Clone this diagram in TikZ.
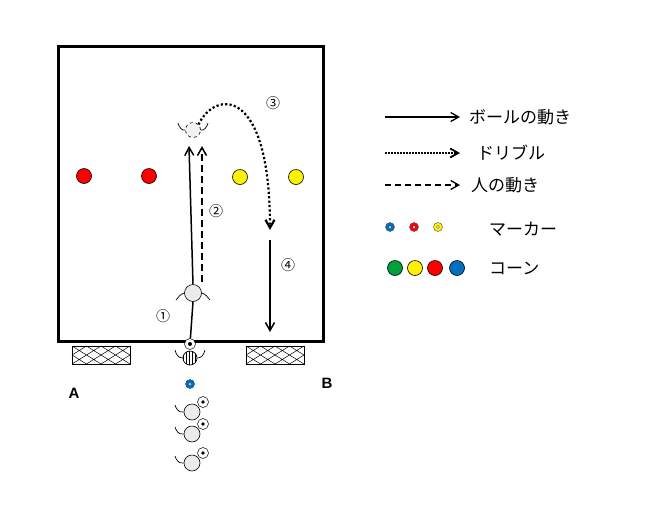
\documentclass[tikz,border=0pt]{standalone}
\usepackage{fontspec}
\setmainfont{Liberation Sans}
\newfontfamily\cjk{Noto Sans CJK JP}
\usetikzlibrary{arrows.meta,patterns}
\definecolor{mblue}{RGB}{0,112,192}
\definecolor{mgreen}{RGB}{0,160,60}
\begin{document}
\begin{tikzpicture}[x=1pt,y=-1pt,
  cone/.style={circle,draw=black,line width=0.6pt,minimum size=15pt,inner sep=0pt},
  mkr/.style={circle,draw=black!70,line width=0.4pt,minimum size=9pt,inner sep=0pt},
  player/.style={circle,draw=black,fill=black!8,line width=0.6pt,minimum size=17pt,inner sep=0pt},
  ball/.style={circle,draw=black,fill=white,line width=0.5pt,minimum size=11pt,inner sep=0pt},
  lbl/.style={font=\cjk\fontsize{14}{14}\selectfont,inner sep=1pt},
  leg/.style={font=\cjk\fontsize{17}{17}\selectfont,inner sep=1pt,anchor=west},
  arr/.style={-{Straight Barb[length=8pt,width=9pt]},line width=1.5pt},
  goal/.style={draw=black,line width=0.8pt}]
\useasboundingbox (0,0) rectangle (651,515);
\node[draw,line width=3pt,minimum width=265pt,minimum height=295pt,anchor=north west] (field) at (57,45) {};
% goals
\foreach \x in {72,246}{
  \draw[goal] (\x,346) rectangle ++(58,18);
  \draw[line width=0.5pt] (\x,346) -- ++(29,18) -- ++(29,-18) (\x,364) -- ++(29,-18) -- ++(29,18)
    (\x,355) -- ++(14.5,-9) (\x,355) -- ++(14.5,9) (\x+58,355) -- ++(-14.5,-9) (\x+58,355) -- ++(-14.5,9)
    (\x+14.5,346)--(\x+43.5,364) (\x+43.5,346)--(\x+14.5,364);
}
% cones
\node[cone,fill=red] (c1) at (84,176) {};
\node[cone,fill=red] (c2) at (149,176) {};
\node[cone,fill=yellow] (c3) at (240,177) {};
\node[cone,fill=yellow] (c4) at (296,177) {};
% players
\node[player] (p1) at (193,293) {};
\draw[line width=0.7pt] (p1.west) .. controls (180,294) and (178,298) .. (176,300);
\draw[line width=0.7pt] (p1.east) .. controls (206,294) and (208,298) .. (210,300);
\node[player,dashed,fill=black!5,minimum size=15pt] (p2) at (193,130) {};
\draw[line width=0.7pt] (p2.west) .. controls (182,131) and (179,127) .. (178,123);
\draw[line width=0.7pt] (p2.east) .. controls (204,131) and (207,127) .. (208,123);
\node[ball] (b0) at (190,344) {};
\fill (b0) circle (2pt);
\node[circle,draw,line width=0.7pt,minimum size=14pt,inner sep=0pt,pattern=vertical lines] (p0) at (190,358) {};
\draw[line width=0.7pt] (p0.west) .. controls (178,358) and (176,354) .. (175,350);
\draw[line width=0.7pt] (p0.east) .. controls (202,358) and (204,354) .. (205,350);
% waiting players
\node[mkr,fill=mblue,draw=mblue!60!black] (m0) at (190,384) {};
\draw[black,fill=white,line width=0.3pt] (m0) circle (1.5pt);
\foreach \n/\y in {w1/412,w2/434,w3/463}{
  \node[player,minimum size=16pt] (\n) at (192,\y) {};
  \draw[line width=0.7pt] (\n.west) .. controls (178,\y+1) and (176,\y-4) .. (175,\y-7);
  \node[ball] (\n b) at (203,\y-10) {};
  \fill (\n b) circle (1.8pt);
}
% movements
\coordinate (t1) at (189,146);
\draw[line width=1.5pt] (b0) -- (p1.south);
\draw[arr] (p1.north) -- (t1);
\coordinate (d0) at (202,282); \coordinate (d1) at (202,146);
\draw[arr,dash pattern=on 7pt off 4pt] (d0) -- (d1);
\coordinate (dr1) at (270,230);
\draw[arr,line width=2.2pt,dash pattern=on 2.2pt off 2.2pt] (p2.north east) .. controls (215,90) and (270,85) .. (dr1);
\coordinate (s0) at (270,240); \coordinate (s1) at (270,332);
\draw[arr] (s0) -- (s1);
\node[lbl] (n1) at (163,316) {①};
\node[lbl] (n2) at (216,211) {②};
\node[lbl] (n3) at (273,103) {③};
\node[lbl] (n4) at (288,265) {④};
\node[font=\bfseries\fontsize{15}{15}\selectfont] (A) at (74,393) {A};
\node[font=\bfseries\fontsize{15}{15}\selectfont] (B) at (327,383) {B};
% legend
\coordinate (l1a) at (385,117); \coordinate (l1b) at (460,117);
\draw[arr,line width=1.3pt] (l1a) -- (l1b);
\node[leg] (t1l) at (468,117) {ボールの動き};
\coordinate (l2a) at (385,153); \coordinate (l2b) at (460,153);
\draw[arr,line width=1.8pt,dash pattern=on 1.6pt off 1.4pt] (l2a) -- (l2b);
\node[leg] (t2l) at (476,153) {ドリブル};
\coordinate (l3a) at (385,185); \coordinate (l3b) at (460,185);
\draw[arr,line width=1.3pt,dash pattern=on 6pt off 4pt] (l3a) -- (l3b);
\node[leg] (t3l) at (470,185) {人の動き};
\foreach \n/\x/\c in {mk1/390/mblue,mk2/414/red,mk3/438/yellow}{
  \node[mkr,fill=\c] (\n) at (\x,227) {};
  \draw[black,fill=white,line width=0.3pt] (\n) circle (1.5pt);
}
\node[leg] (t4l) at (488,229) {マーカー};
\node[cone,fill=mgreen] (k1) at (395,268) {};
\node[cone,fill=yellow] (k2) at (415,268) {};
\node[cone,fill=red] (k3) at (435,268) {};
\node[cone,fill=mblue] (k4) at (457,268) {};
\node[leg] (t5l) at (488,268) {コーン};
\end{tikzpicture}
\end{document}
